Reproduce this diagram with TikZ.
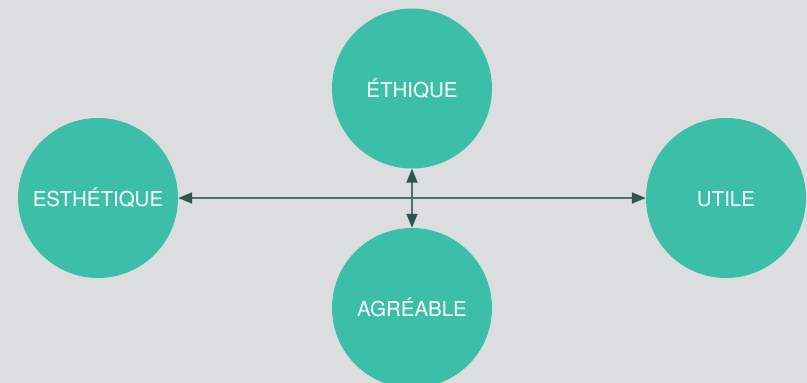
\documentclass[tikz,border=0pt]{standalone}
\usepackage{fontspec}
\setmainfont{TeX Gyre Heros}
\usetikzlibrary{arrows.meta}
\definecolor{bg}{HTML}{DCDDDF}
\definecolor{teal}{HTML}{3BBFA9}
\definecolor{arrowline}{HTML}{4E6F6A}
\definecolor{arrowtip}{HTML}{2E5550}
\tikzset{
  x=1pt, y=-1pt,
  value/.style={circle, fill=teal, draw=none, minimum size=160pt, inner sep=0pt,
    text=white, font=\fontsize{20.5}{24}\selectfont, text height=17.6pt, text depth=0pt},
  link/.style={draw=arrowline, line width=1.6pt,
    {Triangle[length=14pt,width=11pt,fill=arrowtip,color=arrowtip]}-{Triangle[length=14pt,width=11pt,fill=arrowtip,color=arrowtip]}}
}
\begin{document}
\begin{tikzpicture}
  \fill[bg] (0,0) rectangle (807,383);
  \clip (0,0) rectangle (807,383);
  \node[value] (esth) at (98,198) {ESTHÉTIQUE};
  \node[value] (ethi) at (412,88.5) {ÉTHIQUE};
  \node[value] (agre) at (412,308) {AGRÉABLE};
  \node[value] (util) at (726,198) {UTILE};
  \draw[link] (esth.east) -- (util.west);
  \draw[link] (ethi.south) -- (agre.north);
\end{tikzpicture}
\end{document}
